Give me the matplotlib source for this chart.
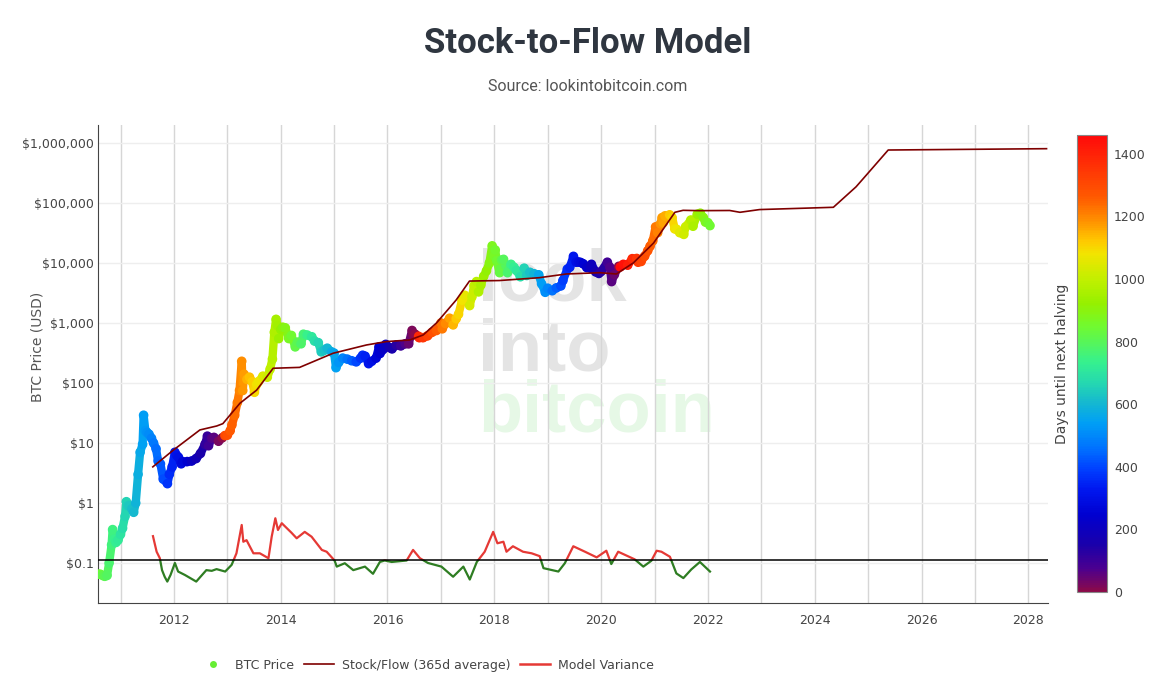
import numpy as np
import pandas as pd
import matplotlib
matplotlib.use("Agg")
import matplotlib.pyplot as plt
import matplotlib.dates as mdates
import matplotlib.ticker as mtick
from matplotlib.collections import LineCollection
from matplotlib.colors import LinearSegmentedColormap, Normalize
from matplotlib.lines import Line2D
from matplotlib.patches import Rectangle

# BTC price (USD)
price_dates = [
    "2010-08-01", "2010-08-15", "2010-09-01", "2010-09-15", "2010-10-01", "2010-10-15",
    "2010-11-01", "2010-11-08", "2010-11-20", "2010-12-01", "2010-12-15", "2011-01-01",
    "2011-01-15", "2011-02-01", "2011-02-10", "2011-02-20", "2011-03-01", "2011-03-20",
    "2011-04-01", "2011-04-15", "2011-05-01", "2011-05-15", "2011-06-01", "2011-06-08",
    "2011-06-20", "2011-07-01", "2011-07-15", "2011-08-01", "2011-08-15", "2011-09-01",
    "2011-09-15", "2011-10-01", "2011-10-20", "2011-11-18", "2011-12-01", "2011-12-20",
    "2012-01-08", "2012-01-20", "2012-02-01", "2012-02-20", "2012-03-01", "2012-04-01",
    "2012-05-01", "2012-06-01", "2012-07-01", "2012-08-01", "2012-08-17", "2012-08-25",
    "2012-09-15", "2012-10-01", "2012-11-01", "2012-11-27", "2012-12-15", "2013-01-01",
    "2013-01-20", "2013-02-01", "2013-02-20", "2013-03-10", "2013-03-25", "2013-04-09",
    "2013-04-16", "2013-04-25", "2013-05-15", "2013-06-01", "2013-06-20", "2013-07-05",
    "2013-07-20", "2013-08-01", "2013-09-01", "2013-10-01", "2013-10-20", "2013-11-05",
    "2013-11-18", "2013-11-30", "2013-12-10", "2013-12-18", "2014-01-01", "2014-01-15",
    "2014-02-01", "2014-02-25", "2014-03-15", "2014-04-10", "2014-04-25", "2014-05-20",
    "2014-06-05", "2014-07-01", "2014-08-01", "2014-08-20", "2014-09-15", "2014-10-05",
    "2014-10-25", "2014-11-15", "2014-12-15", "2015-01-01", "2015-01-14", "2015-02-01",
    "2015-03-01", "2015-04-01", "2015-05-01", "2015-06-01", "2015-07-01", "2015-07-15",
    "2015-08-01", "2015-08-25", "2015-09-15", "2015-10-15", "2015-11-04", "2015-11-11",
    "2015-12-01", "2015-12-20", "2016-01-15", "2016-02-01", "2016-03-01", "2016-04-01",
    "2016-05-01", "2016-05-25", "2016-06-17", "2016-06-25", "2016-07-08", "2016-08-01",
    "2016-08-05", "2016-09-01", "2016-10-01", "2016-11-01", "2016-12-01", "2017-01-01",
    "2017-01-10", "2017-02-01", "2017-03-01", "2017-03-25", "2017-04-15", "2017-05-01",
    "2017-05-25", "2017-06-12", "2017-07-16", "2017-08-01", "2017-08-15", "2017-09-01",
    "2017-09-15", "2017-10-01", "2017-10-20", "2017-11-08", "2017-11-28", "2017-12-17",
    "2017-12-30", "2018-01-07", "2018-01-17", "2018-02-06", "2018-02-20", "2018-03-05",
    "2018-04-01", "2018-04-25", "2018-05-15", "2018-06-01", "2018-06-28", "2018-07-24",
    "2018-08-10", "2018-09-01", "2018-10-01", "2018-11-01", "2018-11-20", "2018-12-15",
    "2019-01-01", "2019-02-01", "2019-03-01", "2019-04-01", "2019-04-15", "2019-05-15",
    "2019-06-01", "2019-06-26", "2019-07-15", "2019-08-01", "2019-08-15", "2019-09-01",
    "2019-09-25", "2019-10-20", "2019-10-27", "2019-11-25", "2019-12-17", "2020-01-01",
    "2020-02-13", "2020-03-01", "2020-03-13", "2020-04-01", "2020-05-01", "2020-05-11",
    "2020-06-01", "2020-07-01", "2020-08-01", "2020-09-01", "2020-09-10", "2020-10-01",
    "2020-10-25", "2020-11-15", "2020-12-01", "2020-12-20", "2021-01-08", "2021-01-22",
    "2021-02-10", "2021-02-21", "2021-03-01", "2021-03-13", "2021-04-14", "2021-05-01",
    "2021-05-19", "2021-06-01", "2021-06-22", "2021-07-20", "2021-08-01", "2021-09-06",
    "2021-09-21", "2021-10-20", "2021-11-10", "2021-12-01", "2021-12-15", "2022-01-01",
    "2022-01-15",
]
price_values = [
    0.065, 0.065, 0.062, 0.06, 0.062, 0.10,
    0.2, 0.36, 0.25, 0.22, 0.24, 0.30,
    0.38, 0.6, 1.05, 0.9, 0.9, 0.8,
    0.7, 1.0, 3.0, 7.0, 9.5, 29,
    16, 15, 14, 12, 10, 8,
    5, 4.5, 2.5, 2.1, 3.0, 4.0,
    7.0, 6.2, 5.8, 4.5, 4.9, 4.9,
    5.0, 5.5, 6.7, 9.5, 13, 9.0,
    12, 12.4, 10.7, 12.2, 13.3, 13.5,
    16, 20, 29, 47, 75, 230,
    75, 140, 115, 125, 105, 70,
    95, 105, 130, 125, 170, 250,
    700, 1150, 900, 550, 780, 850,
    830, 550, 620, 400, 480, 450,
    650, 630, 590, 500, 470, 330,
    350, 380, 330, 315, 180, 220,
    260, 250, 235, 225, 260, 290,
    280, 210, 230, 260, 400, 310,
    360, 440, 390, 370, 430, 415,
    450, 450, 750, 630, 650, 600,
    570, 570, 610, 700, 750, 1000,
    800, 980, 1200, 930, 1180, 1400,
    2400, 2900, 1950, 2750, 4200, 4900,
    3300, 4300, 6000, 7400, 10000, 19300,
    13000, 16500, 11000, 6900, 11200, 11500,
    6900, 9500, 8500, 7500, 5900, 8200,
    6200, 7000, 6600, 6350, 4500, 3250,
    3800, 3450, 3850, 4150, 5100, 7900,
    8500, 12900, 10300, 10400, 10200, 9700,
    8400, 8200, 9500, 7100, 6700, 7200,
    10300, 8500, 4900, 6400, 8800, 8600,
    9500, 9200, 11800, 11900, 10300, 10600,
    13000, 16000, 19000, 23500, 40000, 32000,
    45000, 57000, 47000, 61000, 63500, 57000,
    37000, 36500, 32000, 30000, 40000, 52000,
    41000, 65000, 67500, 57000, 48000, 47000,
    42000,
]

halving_dates = ["2012-11-28", "2016-07-09", "2020-05-11", "2024-05-10"]

# Stock/Flow model (365d average)
s2f_dates = [
    "2011-08-10", "2011-12-28", "2012-03-28", "2012-06-27", "2012-10-20", "2012-12-01",
    "2013-03-28", "2013-07-20", "2013-11-10", "2014-05-10", "2014-12-25", "2015-08-10",
    "2015-12-25", "2016-06-01", "2016-09-01", "2016-12-01", "2017-04-15", "2017-07-15",
    "2018-02-05", "2018-11-05", "2019-05-08", "2019-12-25", "2020-04-15", "2020-08-08",
    "2020-12-25", "2021-05-20", "2021-07-15", "2021-11-05", "2022-05-30", "2022-08-08",
    "2022-12-20", "2024-05-08", "2024-10-10", "2024-12-20", "2025-05-18", "2028-05-05",
]
s2f_values = [
    4.0, 7.6, 11.2, 16.5, 19.2, 21,
    46, 76, 176, 182, 313, 430,
    490, 521, 631, 1000, 2420, 5000,
    5100, 5690, 6560, 6890, 6560, 10000,
    21500, 70000, 75500, 74500, 75000, 70000,
    77700, 84800, 186000, 293000, 764000, 804000,
]

# Model variance
var_dates = [
    "2011-08-11", "2011-09-05", "2011-09-27", "2011-10-12", "2011-10-30", "2011-11-17",
    "2011-12-09", "2012-01-08", "2012-01-30", "2012-03-17", "2012-06-02", "2012-08-10",
    "2012-09-16", "2012-10-19", "2012-12-17", "2013-01-30", "2013-03-04", "2013-04-09",
    "2013-04-20", "2013-05-12", "2013-06-28", "2013-08-11", "2013-10-09", "2013-10-31",
    "2013-11-25", "2013-12-13", "2014-01-08", "2014-03-15", "2014-04-20", "2014-06-14",
    "2014-07-31", "2014-10-09", "2014-11-11", "2015-01-04", "2015-01-19", "2015-03-15",
    "2015-05-12", "2015-07-31", "2015-09-24", "2015-11-10", "2015-12-13", "2016-01-30",
    "2016-05-11", "2016-06-24", "2016-08-10", "2016-10-04", "2016-11-21", "2017-01-04",
    "2017-03-25", "2017-06-03", "2017-07-17", "2017-09-03", "2017-10-27", "2017-12-24",
    "2018-01-22", "2018-03-04", "2018-03-25", "2018-05-08", "2018-07-16", "2018-09-13",
    "2018-11-07", "2018-12-03", "2019-03-15", "2019-04-28", "2019-06-25", "2019-09-13",
    "2019-12-02", "2020-02-06", "2020-03-11", "2020-04-27", "2020-08-18", "2020-10-16",
    "2020-12-10", "2021-01-15", "2021-02-17", "2021-04-16", "2021-05-30", "2021-07-17",
    "2021-09-09", "2021-11-07", "2022-01-15",
]
var_values = [
    0.28, 0.154, 0.12, 0.076, 0.059, 0.049,
    0.063, 0.10, 0.072, 0.063, 0.049, 0.076,
    0.074, 0.079, 0.072, 0.093, 0.145, 0.43,
    0.226, 0.24, 0.145, 0.145, 0.12, 0.274,
    0.556, 0.355, 0.46, 0.32, 0.258, 0.33,
    0.274, 0.165, 0.154, 0.11, 0.087, 0.099,
    0.076, 0.087, 0.066, 0.104, 0.11, 0.104,
    0.11, 0.165, 0.12, 0.10, 0.093, 0.087,
    0.059, 0.087, 0.053, 0.104, 0.154, 0.33,
    0.213, 0.226, 0.154, 0.19, 0.154, 0.145,
    0.13, 0.082, 0.072, 0.099, 0.19, 0.154,
    0.124, 0.16, 0.096, 0.154, 0.115, 0.087,
    0.109, 0.16, 0.154, 0.127, 0.067, 0.056,
    0.078, 0.104, 0.072,
]
var_threshold = 0.112

y_ticks = [0.1, 1, 10, 100, 1000, 10000, 100000, 1000000]
y_labels = ["$0.1", "$1", "$10", "$100", "$1,000", "$10,000", "$100,000", "$1,000,000"]

# colours of the "days until next halving" scale
cmap = LinearSegmentedColormap.from_list("halving", [
    (0 / 1460, "#8b0a4a"), (74 / 1460, "#4a0090"), (148 / 1460, "#1a00aa"),
    (244 / 1460, "#0000d0"), (329 / 1460, "#0018f0"), (392 / 1460, "#0040ff"),
    (456 / 1460, "#0070ff"), (541 / 1460, "#00a0f5"), (604 / 1460, "#15b8d0"),
    (668 / 1460, "#25d8b0"), (732 / 1460, "#35f090"), (848 / 1460, "#70fa30"),
    (923 / 1460, "#96f000"), (997 / 1460, "#c0f000"), (1082 / 1460, "#f2e400"),
    (1124 / 1460, "#ffc800"), (1188 / 1460, "#ff9000"), (1262 / 1460, "#ff5a00"),
    (1.0, "#ff0a0a"),
])
norm = Normalize(0, 1460)

p_dt = pd.to_datetime(price_dates)
halv = pd.to_datetime(halving_dates)
days_left = np.array([(halv[halv > d][0] - d).days for d in p_dt])
px = mdates.date2num(p_dt)
py = np.array(price_values)

fig = plt.figure(figsize=(11.66, 6.9), dpi=100)
ax = fig.add_axes([98 / 1166, 1 - 603 / 690, 950 / 1166, 478 / 690])

# watermark
wm = dict(transform=ax.transAxes, fontsize=52, fontweight="bold", family="Liberation Sans",
          ha="left", va="baseline", zorder=0)
ax.text(0.40, 0.632, "look", color="#e4e4e4", **wm)
ax.text(0.40, 0.486, "into", color="#e4e4e4", **wm)
ax.text(0.40, 0.358, "bitcoin", color="#e6f8e6", **wm)

# BTC price coloured by days until next halving
pts = np.column_stack([px, py])
segs = np.stack([pts[:-1], pts[1:]], axis=1)
lc = LineCollection(segs, cmap=cmap, norm=norm, linewidths=6, capstyle="round", zorder=3)
lc.set_array(days_left[:-1])
ax.add_collection(lc)
ax.scatter(px, py, c=days_left, cmap=cmap, norm=norm, s=48, linewidths=0, zorder=3)

# stock/flow
ax.plot(pd.to_datetime(s2f_dates), s2f_values, color="#7f0000", lw=1.2, zorder=4)

# model variance, red above threshold, green below
vx = pd.to_datetime(var_dates)
above = Rectangle((0, var_threshold), 1, 1e9, transform=ax.get_yaxis_transform())
below = Rectangle((0, 1e-9), 1, var_threshold - 1e-9, transform=ax.get_yaxis_transform())
l1, = ax.plot(vx, var_values, color="#e53935", lw=1.6, zorder=3)
l1.set_clip_path(above)
l2, = ax.plot(vx, var_values, color="#2e7d22", lw=1.6, zorder=3)
l2.set_clip_path(below)
ax.axhline(var_threshold, color="black", lw=1.1, zorder=4)

ax.set_yscale("log")
ax.set_ylim(10 ** -1.667, 10 ** 6.3)
ax.set_xlim(pd.Timestamp("2010-07-31"), pd.Timestamp("2028-05-15"))
ax.set_yticks(y_ticks)
ax.set_yticklabels(y_labels)
ax.yaxis.set_minor_locator(mtick.NullLocator())
ax.xaxis.set_major_locator(mdates.YearLocator(2))
ax.xaxis.set_major_formatter(mdates.DateFormatter("%Y"))
ax.xaxis.set_minor_locator(mdates.YearLocator(1))
ax.grid(axis="x", which="both", color="#d6d6d6", lw=1)
ax.grid(axis="y", which="major", color="#eeeeee", lw=1)
ax.set_axisbelow(True)
ax.tick_params(which="both", length=0, labelsize=9, colors="#444444")
ax.tick_params(axis="y", pad=3)
ax.tick_params(axis="x", pad=8)
for s in ["top", "right"]:
    ax.spines[s].set_visible(False)
for s in ["left", "bottom"]:
    ax.spines[s].set_color("#444444")
ax.set_ylabel("BTC Price (USD)", fontsize=10, color="#555555")
ax.yaxis.set_label_coords(-0.056, 0.535)

# colorbar
cax = fig.add_axes([1077 / 1166, 1 - 592 / 690, 30 / 1166, 457 / 690])
cb = fig.colorbar(plt.cm.ScalarMappable(norm=norm, cmap=cmap), cax=cax)
cb.set_ticks([0, 200, 400, 600, 800, 1000, 1200, 1400])
cb.outline.set_edgecolor("#888888")
cax.tick_params(length=0, labelsize=9, colors="#444444", pad=5)
cax.yaxis.set_label_position("left")
cb.set_label("Days until next halving", fontsize=10, color="#444444", labelpad=6)

fig.text(0.504, 0.937, "Stock-to-Flow Model", ha="center", va="center", fontsize=25,
         fontweight="bold", family="Roboto", color="#2f3640")
fig.text(0.504, 0.875, "Source: lookintobitcoin.com", ha="center", va="center", fontsize=11.5,
         family="Roboto", color="#555555")

handles = [
    Line2D([], [], marker="o", color="none", markerfacecolor="#66ee33", markeredgecolor="none", markersize=5),
    Line2D([], [], color="#7f0000", lw=1.2),
    Line2D([], [], color="#e53935", lw=1.8),
]
fig.legend(handles, ["BTC Price", "Stock/Flow (365d average)", "Model Variance"], loc="center",
           bbox_to_anchor=(0.365, 0.036), ncol=3, frameon=False, fontsize=9, labelcolor="#444444",
           handlelength=2.4, columnspacing=0.8, handletextpad=0.6)

fig.savefig("out.png", dpi=100)
